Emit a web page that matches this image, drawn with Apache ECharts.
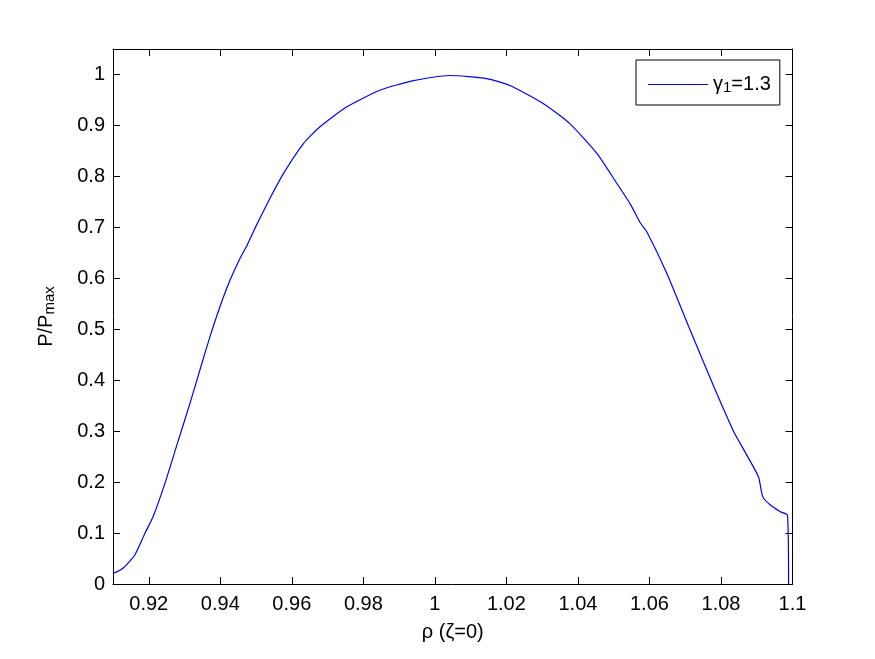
<!DOCTYPE html>
<html>
<head>
<meta charset="utf-8">
<script src="https://cdn.jsdelivr.net/npm/echarts@6/dist/echarts.min.js"></script>
<style>
  html, body { margin: 0; padding: 0; background: #fff; }
  #chart { width: 875px; height: 659px; }
</style>
</head>
<body>
<div id="chart"></div>
<script>
// rho (zeta=0) and normalised power
const rho = [
  0.9102, 0.9128, 0.9161, 0.9189, 0.9212, 0.9245, 0.9277, 0.9315, 0.9343, 0.9371,
  0.9399, 0.9427, 0.9455, 0.9475, 0.9494, 0.9539, 0.9576, 0.9632, 0.9678, 0.9753,
  0.9846, 0.9940, 1.0042, 1.0145, 1.0211, 1.0303, 1.0378, 1.0453, 1.0509, 1.0546,
  1.0576, 1.0593, 1.0649, 1.0714, 1.0779, 1.0835, 1.0873, 1.0905, 1.0917, 1.0938,
  1.0966, 1.0986, 1.0989
];
const power = [
  0.021, 0.031, 0.057, 0.099, 0.132, 0.197, 0.269, 0.354, 0.420, 0.485,
  0.544, 0.596, 0.639, 0.665, 0.694, 0.757, 0.805, 0.864, 0.897, 0.936,
  0.969, 0.988, 0.998, 0.992, 0.978, 0.943, 0.903, 0.845, 0.786, 0.746,
  0.707, 0.691, 0.609, 0.498, 0.389, 0.300, 0.252, 0.210, 0.171, 0.155,
  0.142, 0.135, 0.0
];
const xTicks = [0.92, 0.94, 0.96, 0.98, 1, 1.02, 1.04, 1.06, 1.08, 1.1];
const yTicks = [0, 0.1, 0.2, 0.3, 0.4, 0.5, 0.6, 0.7, 0.8, 0.9, 1];
const seriesName = "gamma1";

const FONT = "Liberation Sans, Arial, Helvetica, sans-serif";
const black = "#000";
const FS = 20;

const axisBase = (ticks) => ({
  axisLine: { show: true, onZero: false, lineStyle: { color: black, width: 1 } },
  axisTick: { show: true, inside: true, length: 7, customValues: ticks, lineStyle: { color: black } },
  splitLine: { show: false },
});

const chart = echarts.init(document.getElementById("chart"));
chart.setOption({
  animation: false,
  backgroundColor: "#fff",
  textStyle: { fontFamily: FONT },
  grid: { left: 113, right: 82.5, top: 49, bottom: 75, containLabel: false },
  legend: {
    left: 636,
    top: 60,
    padding: [10, 9, 10, 12],
    borderColor: black,
    borderWidth: 1,
    backgroundColor: "#fff",
    icon: "rect",
    itemWidth: 60,
    itemHeight: 1.2,
    data: [seriesName],
    formatter: () => "{g|γ}{s|1}{g|=1.3}",
    textStyle: {
      rich: {
        g: { fontSize: FS, color: black, fontFamily: FONT, lineHeight: 21, verticalAlign: "top" },
        s: { fontSize: 15, color: black, fontFamily: FONT, lineHeight: 15, padding: [10, 0, 0, 0], verticalAlign: "bottom" },
      },
    },
  },
  xAxis: [
    Object.assign(axisBase(xTicks), {
      type: "value",
      min: 0.91,
      max: 1.1,
      position: "bottom",
      name: "ρ (ζ=0)",
      nameLocation: "middle",
      nameGap: 38,
      nameTextStyle: { fontSize: FS, color: black, fontFamily: FONT },
      axisLabel: {
        customValues: xTicks,
        fontSize: FS,
        color: black,
        margin: 10,
        formatter: (v) => String(+v.toFixed(2)),
      },
    }),
    Object.assign(axisBase(xTicks), {
      type: "value",
      min: 0.91,
      max: 1.1,
      position: "top",
      axisLabel: { show: false },
    }),
  ],
  yAxis: [
    Object.assign(axisBase(yTicks), {
      type: "value",
      min: 0,
      max: 1.05,
      position: "left",
      name: "{a|P/P}{b|max}",
      nameLocation: "middle",
      nameRotate: 90,
      nameGap: 56,
      nameTextStyle: {
        rich: {
          a: { fontSize: FS, color: black, fontFamily: FONT, lineHeight: 21, verticalAlign: "top" },
          b: { fontSize: 15, color: black, fontFamily: FONT, lineHeight: 15, padding: [10, 0, 0, 0], verticalAlign: "bottom" },
        },
      },
      axisLabel: {
        customValues: yTicks,
        fontSize: FS,
        color: black,
        margin: 8,
        formatter: (v) => String(+v.toFixed(1)),
      },
    }),
    Object.assign(axisBase(yTicks), {
      type: "value",
      min: 0,
      max: 1.05,
      position: "right",
      axisLabel: { show: false },
    }),
  ],
  series: [
    {
      name: seriesName,
      type: "line",
      xAxisIndex: 0,
      yAxisIndex: 0,
      symbol: "none",
      showSymbol: false,
      smooth: 0.2,
      lineStyle: { color: "#0000ff", width: 1.2 },
      itemStyle: { color: "#0000ff" },
      data: rho.map((r, i) => [r, power[i]]),
    },
  ],
});
</script>
</body>
</html>
